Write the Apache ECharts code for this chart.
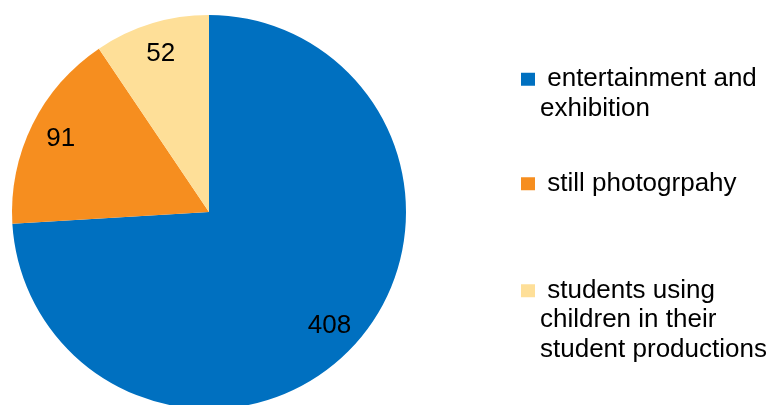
<!DOCTYPE html>
<html><head><meta charset="utf-8">
<script src="https://cdn.jsdelivr.net/npm/echarts@6/dist/echarts.min.js"></script>
<style>html,body{margin:0;padding:0;background:#fff}#c{width:776px;height:405px}</style>
</head><body><div id="c"></div>
<script>
const categories = ['entertainment and exhibition', 'still photogrpahy', 'students using children in their student productions'];
const values = [408, 91, 52];
const legendLabels = [' entertainment and\nexhibition', ' still photogrpahy', ' students using\nchildren in their\nstudent productions'];
const colors = ['#0070C0', '#F68E1F', '#FEDF98'];

const FONT = 'Liberation Sans, Arial, sans-serif';
const LH = 29.5;
const data = categories.map((n, i) => ({ name: n, value: values[i], itemStyle: { color: colors[i] } }));
const legendTops = [35, 169, 217];
const legends = categories.map((n, i) => {
  const lines = legendLabels[i].split('\n').length;
  const text = ' \n'.repeat(lines - 1) + legendLabels[i];
  return {
    data: [n],
    orient: 'vertical',
    left: 521,
    top: legendTops[i],
    padding: 0,
    icon: 'rect',
    itemWidth: 14,
    itemHeight: 13,
    formatter: () => text,
    textStyle: { fontSize: 26, fontFamily: FONT, color: '#000', lineHeight: LH },
    selectedMode: false
  };
});

const chart = echarts.init(document.getElementById('c'), null, { renderer: 'canvas' });
chart.setOption({
  animation: false,
  legend: legends,
  series: [
    {
      type: 'pie', center: [209, 212], radius: [0, 197], startAngle: 90, clockwise: true,
      data: data, label: { show: false }, labelLine: { show: false },
      itemStyle: { borderWidth: 0 }, emphasis: { disabled: true }, silent: true
    },
    {
      type: 'pie', center: [209, 212], radius: [128, 197], startAngle: 90, clockwise: true,
      data: categories.map((n, i) => ({ name: n, value: values[i] })),
      itemStyle: { color: 'rgba(0,0,0,0)', borderWidth: 0 },
      label: { show: true, position: 'inside', formatter: '{c}', fontSize: 26, fontFamily: FONT, color: '#000', textBorderWidth: 0 },
      labelLine: { show: false }, emphasis: { disabled: true }, silent: true
    }
  ]
});
</script></body></html>
